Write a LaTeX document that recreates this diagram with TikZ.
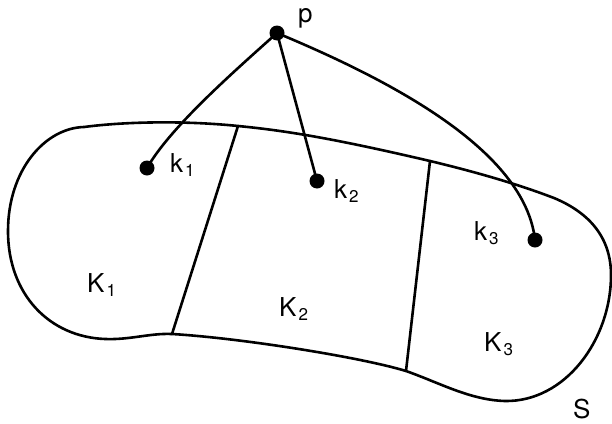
\documentclass[tikz,border=0pt]{standalone}
\usepackage{fontspec}
\setmainfont{TeX Gyre Heros}
\newcommand\sbs[1]{\kern2pt\raisebox{-4pt}{\fontsize{17}{19}\selectfont #1}}
\tikzset{
  line/.style={line width=2.6pt, line cap=round, line join=round},
  dotpt/.style={circle, fill=black, inner sep=0pt, minimum size=15pt},
  lbl/.style={anchor=base west, inner sep=0pt, font=\fontsize{26}{30}\selectfont}
}
\begin{document}
\begin{tikzpicture}[x=1pt,y=-1pt]
\useasboundingbox (0,0) rectangle (612,423);
\coordinate (d1t) at (238,126);
\coordinate (d1b) at (172,334);
\coordinate (d2t) at (430,161);
\coordinate (d2b) at (406,371);
% outline S
\draw[line] (84,127) .. controls (130,121) and (190,121) .. (d1t)
 .. controls (290,131) and (340,140) .. (d2t)
 .. controls (480,173) and (520,185) .. (554,198)
 .. controls (590,213) and (611,238) .. (611,275)
 .. controls (611,340) and (565,402) .. (505,401)
 .. controls (470,400) and (440,383) .. (d2b)
 .. controls (360,357) and (240,338) .. (d1b)
 .. controls (150,333) and (130,340) .. (105,339)
 .. controls (50,337) and (8,295) .. (8,231)
 .. controls (8,170) and (45,128) .. (84,127) -- cycle;
\draw[line] (d1t) -- (d1b);
\draw[line] (d2t) -- (d2b);
% points
\node[dotpt] (p) at (277,33) {};
\node[dotpt] (k1) at (147,168) {};
\node[dotpt] (k2) at (317,181) {};
\node[dotpt] (k3) at (535,240) {};
\draw[line] (p.center) .. controls (230,75) and (170,128) .. (k1.center);
\draw[line] (p.center) -- (k2.center);
\draw[line] (p.center) .. controls (390,80) and (525,150) .. (k3.center);
% labels
\node[lbl] (lp) at (298,22) {p};
\node[lbl] (lk1) at (170,172) {k\sbs{1}};
\node[lbl] (lk2) at (334,198) {k\sbs{2}};
\node[lbl] (lk3) at (474,240) {k\sbs{3}};
\node[lbl] (lK1) at (87,292) {K\sbs{1}};
\node[lbl] (lK2) at (279,316) {K\sbs{2}};
\node[lbl] (lK3) at (484,351) {K\sbs{3}};
\node[lbl] (lS) at (573,418) {S};
\end{tikzpicture}
\end{document}
